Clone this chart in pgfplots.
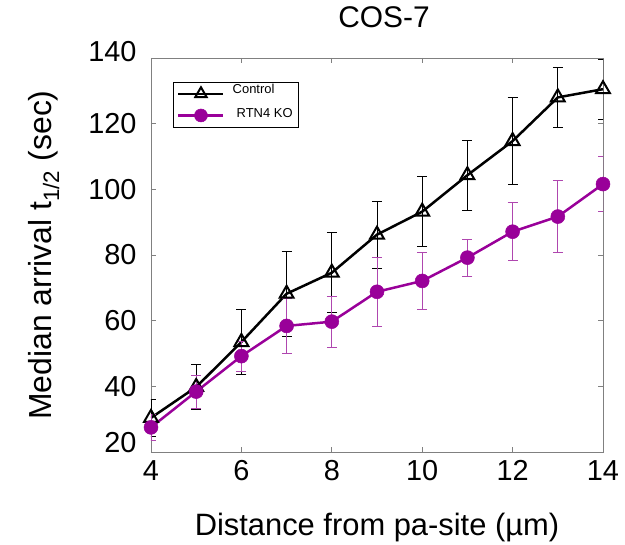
\documentclass[border=0pt]{standalone}
\usepackage{fontspec}
\setmainfont{Liberation Sans}
\usepackage{pgfplots}
\usepackage{pgfplotstable}
\pgfplotsset{compat=1.18}
\definecolor{kopurple}{RGB}{153,0,153}
\definecolor{kobar}{RGB}{175,70,175}
\definecolor{axgray}{RGB}{128,128,128}
\pgfplotstableread{
x y e
4 30.4 5.6
5 39.8 6.9
6 53.5 9.9
7 68.2 13.0
8 74.6 12.2
9 86.2 10.2
10 93.2 10.7
11 104.3 10.7
12 114.7 13.3
13 128.0 9.0
14 130.5 9.2
}\controldata
\pgfplotstableread{
x y e
4 27.5 4.0
5 38.4 5.0
6 49.2 4.5
7 58.4 8.5
8 59.7 7.8
9 68.8 10.6
10 72.1 8.6
11 79.2 5.7
12 87.1 8.8
13 91.7 11.0
14 101.6 8.4
}\kodata
\begin{document}
\begin{tikzpicture}
\path[use as bounding box] (-151bp,-93bp) rectangle (474bp,452bp);
\begin{axis}[
  at={(0,0)}, anchor=south west,
  scale only axis, width=452bp, height=394bp,
  xmin=4, xmax=14, ymin=20, ymax=140,
  xtick={4,6,...,14}, ytick={20,40,...,140},
  yticklabels={\raisebox{9bp}[\height][\depth]{20},40,60,80,100,120,\raisebox{6bp}[\height][\depth]{140}},
  tick align=inside, major tick length=5bp,
  axis line style={axgray, line width=0.8bp},
  every tick/.style={axgray, line width=0.8bp},
  /pgf/number format/assume math mode=true,
  tick label style={font=\fontsize{29}{32}\selectfont, black},
  xticklabel style={anchor=base, yshift=-28bp},
  yticklabel style={xshift=-11bp},
  title={COS-7},
  title style={at={(axis description cs:0.5,1)}, anchor=base, yshift=25bp, xshift=7bp, font=\fontsize{30}{34}\selectfont},
  xlabel={Distance from pa-site (µm)},
  xlabel style={at={(axis description cs:0.5,0)}, anchor=base, yshift=-83bp, font=\fontsize{31}{36}\selectfont},
  ylabel={Median arrival t\textsubscript{1/2} (sec)},
  ylabel style={at={(axis description cs:-0.237,0.5)}, anchor=center, font=\fontsize{32}{36}\selectfont},
  legend style={at={(axis description cs:0.0487,0.94)}, anchor=north west, draw=black,
    font=\fontsize{13}{15}\selectfont, inner xsep=4bp, inner ysep=4.5bp, row sep=7bp},
  legend cell align=left,
  legend image code/.code={\draw[mark repeat=2,mark phase=2,#1, line width=2.5bp, mark size=6.5bp] plot coordinates {(0bp,0bp) (22.5bp,0bp) (45bp,0bp)};},
]
\addplot[black, line width=2.5bp, mark=triangle, mark size=8bp,
  mark options={fill=white, draw=black, line width=2bp},
  error bars/.cd, y dir=both, y explicit,
  error bar style={black, line width=0.8bp},
  error mark options={rotate=90, mark size=5bp, black, line width=0.8bp}]
  table[x=x, y=y, y error=e] {\controldata};
\addlegendentry{\hspace{6bp}\raisebox{4bp}[\height][\depth]{Control}}
\addplot[kopurple, line width=2.5bp, mark=*, mark size=7bp,
  mark options={fill=kopurple, draw=kopurple, line width=0.5bp},
  error bars/.cd, y dir=both, y explicit,
  error bar style={kobar, line width=0.8bp},
  error mark options={rotate=90, mark size=5bp, kobar, line width=0.8bp}]
  table[x=x, y=y, y error=e] {\kodata};
\addlegendentry{\hspace{10bp}\raisebox{1.5bp}[\height][\depth]{RTN4 KO}\hspace{21bp}}
\end{axis}
\end{tikzpicture}
\end{document}
